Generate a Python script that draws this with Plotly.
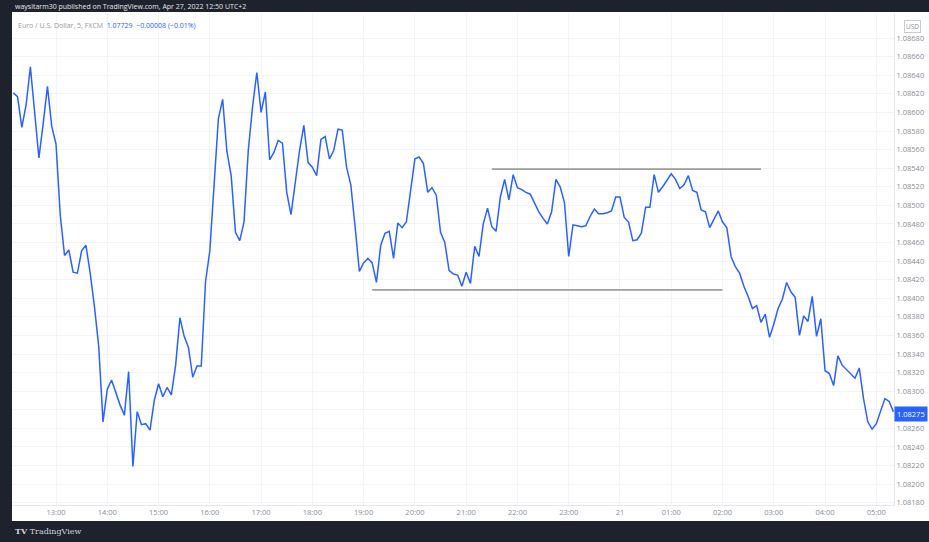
import pandas as pd
import plotly.graph_objects as go

# ---- data (EUR/USD, 5-minute closes) ----
start_time = "2022-04-20 12:10"
close = [
    1.08621, 1.08617, 1.08584, 1.08608, 1.08649, 1.08599, 1.08551, 1.08588, 1.08628, 1.08585,
    1.08566, 1.08489, 1.08446, 1.08452, 1.08428, 1.08427, 1.08451, 1.08457, 1.08427, 1.08391,
    1.08348, 1.08267, 1.08302, 1.08312, 1.08298, 1.08285, 1.08274, 1.08321, 1.08219, 1.08278,
    1.08264, 1.08265, 1.08258, 1.08290, 1.08308, 1.08294, 1.08304, 1.08296, 1.08328, 1.08379,
    1.08359, 1.08347, 1.08315, 1.08327, 1.08327, 1.08418, 1.08451, 1.08520, 1.08593, 1.08614,
    1.08558, 1.08532, 1.08471, 1.08462, 1.08482, 1.08559, 1.08606, 1.08643, 1.08600, 1.08622,
    1.08549, 1.08557, 1.08570, 1.08567, 1.08514, 1.08490, 1.08523, 1.08559,
    1.08586, 1.08546, 1.08541, 1.08532, 1.08571, 1.08574, 1.08550, 1.08559, 1.08582, 1.08581,
    1.08541, 1.08522, 1.08477, 1.08429, 1.08438, 1.08443, 1.08438, 1.08417, 1.08457, 1.08470,
    1.08472, 1.08443, 1.08481, 1.08476, 1.08482, 1.08516, 1.08550, 1.08552, 1.08545, 1.08514,
    1.08519, 1.08511, 1.08471, 1.08460, 1.08430, 1.08426, 1.08425, 1.08413, 1.08428, 1.08416,
    1.08456, 1.08445, 1.08480, 1.08497, 1.08477, 1.08472, 1.08509, 1.08528, 1.08506, 1.08533,
    1.08519, 1.08517, 1.08514, 1.08512, 1.08503, 1.08493, 1.08486, 1.08480, 1.08493, 1.08528,
    1.08520, 1.08503, 1.08445, 1.08479, 1.08478, 1.08477, 1.08478, 1.08488, 1.08496, 1.08491,
    1.08491, 1.08492, 1.08494, 1.08509, 1.08509, 1.08487, 1.08482, 1.08462, 1.08463, 1.08470,
    1.08498, 1.08498, 1.08533, 1.08514, 1.08520, 1.08527, 1.08534, 1.08528, 1.08518, 1.08522,
    1.08532, 1.08516, 1.08514, 1.08495, 1.08493, 1.08476, 1.08485, 1.08494, 1.08482, 1.08476,
    1.08445, 1.08434, 1.08427, 1.08413, 1.08402, 1.08389, 1.08392, 1.08374, 1.08383, 1.08358,
    1.08372, 1.08389, 1.08399, 1.08417, 1.08407, 1.08401, 1.08360, 1.08381, 1.08375, 1.08402,
    1.08359, 1.08378, 1.08322, 1.08319, 1.08306, 1.08338, 1.08328, 1.08323, 1.08319, 1.08314,
    1.08325, 1.08292, 1.08267, 1.08259, 1.08265, 1.08279, 1.08292, 1.08289, 1.08278,
]

# drawn horizontal levels (resistance / support)
upper_line_times = ["2022-04-20 21:30", "2022-04-21 02:45"]
upper_line_price = [1.08539, 1.08539]
lower_line_times = ["2022-04-20 19:10", "2022-04-21 02:00"]
lower_line_price = [1.08409, 1.08409]

tick_times = pd.date_range("2022-04-20 13:00", "2022-04-21 05:00", freq="1h")
tick_labels = ["13:00", "14:00", "15:00", "16:00", "17:00", "18:00", "19:00", "20:00",
               "21:00", "22:00", "23:00", "21", "01:00", "02:00", "03:00", "04:00", "05:00"]
price_ticks = [round(1.0818 + 0.0002 * k, 5) for k in range(26)]
last_price_label = "1.08275"
last_price_value = 1.08275

times = pd.date_range(start_time, periods=len(close), freq="5min")

DARK = "#1e222d"
BLUE = "#2962ff"
GRAY_TXT = "#8a8e97"
FONT = "Open Sans"

fig = go.Figure()
fig.add_trace(go.Scatter(x=upper_line_times, y=upper_line_price, mode="lines",
                         line=dict(color="#9e9e9e", width=1.6), hoverinfo="skip"))
fig.add_trace(go.Scatter(x=lower_line_times, y=lower_line_price, mode="lines",
                         line=dict(color="#9e9e9e", width=1.6), hoverinfo="skip"))
fig.add_trace(go.Scatter(x=times, y=close, mode="lines",
                         line=dict(color=BLUE, width=1.5)))

W, H = 929, 542
L, R, T, B = 12, 35, 13, 37
pw, ph = W - L - R, H - T - B


def px(xp):
    return (xp - L) / pw


def py(yp):
    return (H - B - yp) / ph


shapes = [
    # dark frame: top, left, bottom
    dict(type="rect", xref="paper", yref="paper", x0=-0.1, x1=1.2, y0=py(12), y1=1.2,
         fillcolor=DARK, line=dict(width=0), layer="above"),
    dict(type="rect", xref="paper", yref="paper", x0=-0.1, x1=px(12), y0=-0.2, y1=1.2,
         fillcolor=DARK, line=dict(width=0), layer="above"),
    dict(type="rect", xref="paper", yref="paper", x0=-0.1, x1=1.2, y0=-0.2, y1=py(521),
         fillcolor=DARK, line=dict(width=0), layer="above"),
]

annotations = [
    dict(xref="paper", yref="paper", x=px(13), y=py(6), xanchor="left", yanchor="middle",
         text="waysitarm30 published on TradingView.com, Apr 27, 2022 12:50 UTC+2",
         showarrow=False, font=dict(family=FONT, size=7, color="#e6e6e6")),
    dict(xref="paper", yref="paper", x=px(16), y=py(26), xanchor="left", yanchor="middle",
         text=("<span style='color:#9598a1'>Euro / U.S. Dollar, 5, FXCM</span>"
               "  <span style='color:#2962ff'>1.07729  −0.00008 (−0.01%)</span>"),
         showarrow=False, font=dict(family=FONT, size=7)),
    dict(xref="paper", yref="paper", x=px(13), y=py(531), xanchor="left", yanchor="middle",
         text="<b>TV</b> TradingView", showarrow=False,
         font=dict(family="DejaVu Serif", size=8, color="#d1d4dc")),
    dict(xref="paper", yref="paper", x=px(912), y=py(27), xanchor="center", yanchor="middle",
         text="USD", showarrow=False, bordercolor="#c8cad0", borderwidth=1, borderpad=1,
         bgcolor="white", font=dict(family=FONT, size=6.5, color=GRAY_TXT)),
    dict(xref="paper", yref="y", x=1.0, y=last_price_value, xanchor="left", yanchor="middle",
         text=last_price_label, showarrow=False, bgcolor=BLUE, borderpad=2,
         font=dict(family=FONT, size=7.5, color="white")),
]

fig.update_layout(
    width=W, height=H,
    margin=dict(l=L, r=R, t=T, b=B, autoexpand=False),
    paper_bgcolor="white", plot_bgcolor="white",
    showlegend=False,
    shapes=shapes,
    annotations=annotations,
    xaxis=dict(
        range=["2022-04-20 12:08:30", "2022-04-21 05:20:40"],
        tickmode="array", tickvals=tick_times, ticktext=tick_labels,
        showgrid=True, gridcolor="#f3f4f7", gridwidth=1,
        showline=True, linecolor="#e6e8ee", linewidth=1,
        ticks="", tickfont=dict(family=FONT, size=7.5, color=GRAY_TXT),
        zeroline=False, automargin=False,
    ),
    yaxis=dict(
        side="right",
        range=[1.081775, 1.08707],
        tickmode="array", tickvals=price_ticks, tickformat=".5f",
        showgrid=True, gridcolor="#f3f4f7", gridwidth=1,
        showline=True, linecolor="#e6e8ee", linewidth=1,
        ticks="", tickfont=dict(family=FONT, size=7.5, color=GRAY_TXT),
        zeroline=False, automargin=False,
    ),
)

fig.write_html(
    "out.html",
    config={"displayModeBar": False},
    post_script="document.body.style.margin='0';document.body.style.padding='0';"
                "document.body.style.overflow='hidden';"
                "document.body.style.background='#1e222d';",
)
